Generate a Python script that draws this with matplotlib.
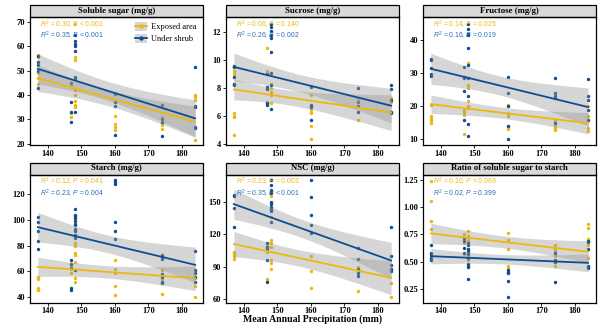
import numpy as np
import matplotlib
matplotlib.use('Agg')
import matplotlib.pyplot as plt
from matplotlib.patches import Rectangle, Patch
from matplotlib.lines import Line2D

plt.rcParams['font.family'] = 'Liberation Serif'
plt.rcParams['mathtext.fontset'] = 'custom'
plt.rcParams['mathtext.rm'] = 'Liberation Sans'
plt.rcParams['mathtext.it'] = 'Liberation Sans:italic'

# sampling sites, mean annual precipitation (mm)
sites = [137, 147, 148, 160, 174, 184]

# measurements per site: exposed area / under shrub
sugar_exposed = [[56.5, 55.5, 49, 47, 44.5], [44, 32.5, 31], [69, 55.5, 54.5, 42.5, 42, 40, 37.5, 36, 35],
                 [41, 31.5, 28, 27, 25.5], [36, 31, 28.5, 27.5, 26], [40, 39, 38, 35, 21.5]]
sugar_shrub = [[56, 53.5, 52.5, 50, 43], [45, 37, 33, 29], [64.5, 62, 61, 60, 58, 47.5, 46.5, 33],
               [40.5, 37, 35.5, 23.5], [36, 30, 29, 23], [51.5, 35.5, 35, 27, 26.5]]

sucrose_exposed = [[9.6, 9.5, 9.2, 9.0, 8.8, 8.3, 6.2, 6.0, 5.9, 4.6], [10.9, 9.2, 9.1, 7.9, 7.0, 6.9], [8.3, 8.0, 7.7, 7.5, 6.9],
                   [7.5, 6.5, 6.3, 6.2, 5.3, 4.3], [7.2, 5.7], [7.3, 7.0, 6.3]]
sucrose_shrub = [[9.6, 9.5, 8.8, 8.3, 8.2], [9.0, 8.1, 7.9, 6.9, 6.8], [12.6, 12.4, 12.1, 11.8, 11.6, 10.6, 9.1, 8.2, 6.5],
                 [8.1, 6.8, 6.7, 6.6, 5.7], [8.0, 7.0, 6.7, 6.3], [8.2, 7.9, 7.1, 6.3, 6.2]]

fructose_exposed = [[20.3, 17, 16.5, 16, 15], [19, 18.5, 18, 17.5, 11.5], [33, 32.5, 26.5, 25.5, 21.5, 20, 19.5],
                    [20.5, 20, 18, 17, 14, 13], [16, 15, 14, 13.5, 13, 12.7], [20, 17, 16, 13.5, 12.5]]
fructose_shrub = [[34.3, 34, 31.5, 29.7, 29.3], [32, 29, 28.5, 24.5, 16], [45, 43.5, 42, 41.5, 37.5, 32.5, 28.5, 23, 14.5, 11],
                  [29, 24, 20, 14, 10], [28.5, 24, 23, 22.5, 15], [28.2, 23, 22, 19, 16]]

starch_exposed = [[56, 55, 54, 47, 46, 45.5], [64, 62, 59], [100, 87, 82, 80, 74, 73, 67, 61, 55, 52],
                  [69, 62, 59, 48.5, 42], [61, 56, 54, 42.5], [61, 59, 55, 49, 40.5]]
starch_shrub = [[102, 98, 91, 83.5, 77], [68.5, 66, 63, 47, 46], [108, 104, 103, 101, 99, 97, 96, 93, 91, 88, 86, 61],
                [130.5, 129, 128, 98.5, 91, 85], [73, 71, 70, 58, 56, 52, 51], [76, 61, 59, 56, 52]]

nsc_exposed = [[104, 103, 101, 100, 97], [112, 110, 104, 79, 77], [160, 155, 136, 115, 112, 108, 96, 93, 88],
               [100, 86, 70], [90, 87, 84, 68], [100, 88, 75, 62]]
nsc_shrub = [[156, 155, 144, 127], [112, 108, 106, 96, 76], [170, 165, 161, 158, 150, 148, 145, 143, 141, 131],
             [170, 154, 138, 128, 121], [107, 97, 88, 84, 81], [127, 100, 92, 88, 86]]

ratio_exposed = [[1.24, 1.06, 0.87, 0.80], [0.75, 0.72, 0.67, 0.57], [0.78, 0.74, 0.70, 0.68, 0.66, 0.62, 0.58, 0.55, 0.52],
                 [0.76, 0.70, 0.62, 0.46, 0.44], [0.65, 0.62, 0.60, 0.55, 0.50, 0.46], [0.85, 0.81, 0.71, 0.69, 0.65, 0.53]]
ratio_shrub = [[0.65, 0.58, 0.57, 0.53, 0.52], [0.72, 0.69, 0.63, 0.58], [0.67, 0.65, 0.62, 0.60, 0.57, 0.53, 0.48, 0.46, 0.45, 0.34],
               [0.42, 0.41, 0.40, 0.32, 0.18], [0.58, 0.52, 0.51, 0.50, 0.31], [0.69, 0.68, 0.62, 0.46, 0.45, 0.44]]

titles = ['Soluble sugar (mg/g)', 'Sucrose (mg/g)', 'Fructose (mg/g)',
          'Starch (mg/g)', 'NSC (mg/g)', 'Ratio of soluble sugar to starch']
exposed_stats = [('0.30', '<', '0.001'), ('0.06', '=', '0.140'), ('0.14', '=', '0.025'),
                 ('0.12', '=', '0.041'), ('0.23', '=', '0.003'), ('0.10', '=', '0.069')]
shrub_stats = [('0.35', '<', '0.001'), ('0.26', '=', '0.002'), ('0.16', '=', '0.019'),
               ('0.23', '=', '0.004'), ('0.35', '<', '0.001'), ('0.02', '=', '0.399')]
yticks = [[20, 30, 40, 50, 60, 70], [4, 6, 8, 10, 12], [10, 20, 30, 40],
          [40, 60, 80, 100, 120], [60, 90, 120, 150], [0.25, 0.50, 0.75, 1.00, 1.25]]
ylims = [(19.5, 72), (3.9, 13.1), (8.3, 47), (36, 135), (57, 175), (0.126, 1.30)]

panels = [(sugar_exposed, sugar_shrub), (sucrose_exposed, sucrose_shrub), (fructose_exposed, fructose_shrub),
          (starch_exposed, starch_shrub), (nsc_exposed, nsc_shrub), (ratio_exposed, ratio_shrub)]

col_exp = '#EDB80C'
col_shrub = '#0E4C94'


def flatten(groups):
    xs, ys = [], []
    for site, vals in zip(sites, groups):
        xs += [site] * len(vals)
        ys += vals
    return np.array(xs, float), np.array(ys, float)


def lm_band(x, y, xs):
    # linear fit with 95% confidence band, like geom_smooth(method = 'lm')
    n = len(x)
    b, a = np.polyfit(x, y, 1)
    resid = y - (a + b * x)
    s = np.sqrt(np.sum(resid ** 2) / (n - 2))
    sxx = np.sum((x - x.mean()) ** 2)
    se = s * np.sqrt(1 / n + (xs - x.mean()) ** 2 / sxx)
    fit = a + b * xs
    return fit, fit - 2.04 * se, fit + 2.04 * se


fig = plt.figure(figsize=(6, 3.27), dpi=100)
lefts = [30 / 600, 226 / 600, 423 / 600]
bottoms = [1 - 145 / 327, 1 - 302.5 / 327]
w = 173 / 600
h = 128 / 327

xs = np.linspace(137, 184, 100)
for i, (exp, shrub) in enumerate(panels):
    ax = fig.add_axes([lefts[i % 3], bottoms[i // 3], w, h])
    for groups, col in [(exp, col_exp), (shrub, col_shrub)]:
        x, y = flatten(groups)
        ax.scatter(x, y, s=6, color=col, linewidths=0, zorder=2)
    for groups, col in [(exp, col_exp), (shrub, col_shrub)]:
        x, y = flatten(groups)
        fit, lo, hi = lm_band(x, y, xs)
        ax.fill_between(xs, lo, hi, color='#999999', alpha=0.4, linewidth=0, zorder=3)
        ax.plot(xs, fit, color=col, lw=1.3, zorder=4)

    ax.set_xlim(134.65, 186.35)
    ax.set_ylim(*ylims[i])
    ax.set_xticks([140, 150, 160, 170, 180])
    ax.set_yticks(yticks[i])
    if i == 5:
        ax.set_yticklabels(['%.2f' % v for v in yticks[i]])
    ax.tick_params(length=2, width=0.6, pad=1.5, labelsize=6)
    for lab in ax.get_xticklabels() + ax.get_yticklabels():
        lab.set_fontweight('bold')
    for sp in ax.spines.values():
        sp.set_linewidth(0.9)

    # facet strip
    sh = 12 / 128
    ax.add_patch(Rectangle((0, 1), 1, sh, transform=ax.transAxes, facecolor='#D9D9D9',
                           edgecolor='black', lw=0.9, clip_on=False))
    ax.text(0.5, 1 + sh / 2, titles[i], transform=ax.transAxes, ha='center', va='center',
            fontsize=6.3, fontweight='bold')

    r, op, p = exposed_stats[i]
    ax.text(0.06, 0.94, r'$R^2$ = %s, $P$ %s %s' % (r, op, p), transform=ax.transAxes,
            color=col_exp, fontsize=4.9, va='center', family='Liberation Sans', zorder=5)
    r, op, p = shrub_stats[i]
    ax.text(0.06, 0.85, r'$R^2$ = %s, $P$ %s %s' % (r, op, p), transform=ax.transAxes,
            color='#2A6DB5', fontsize=4.9, va='center', family='Liberation Sans', zorder=5)

    if i == 0:
        handles = [(Patch(facecolor='#999999', alpha=0.4),
                    Line2D([], [], color=c, lw=1.3, marker='o', markersize=2.2))
                   for c in (col_exp, col_shrub)]
        ax.legend(handles, ['Exposed area', 'Under shrub'], loc='upper left',
                  bbox_to_anchor=(0.58, 1.0), frameon=False, fontsize=6,
                  handlelength=1.4, handleheight=1.2, labelspacing=0.35, handletextpad=0.5,
                  borderaxespad=0.2)

fig.text(312.5 / 600, 1 - 319 / 327, 'Mean Annual Precipitation (mm)', ha='center', va='center',
         fontsize=7, fontweight='bold')

fig.savefig('out.png', dpi=100)
